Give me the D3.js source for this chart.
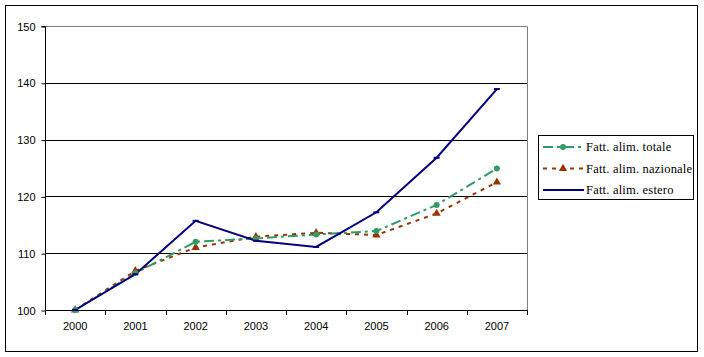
<!DOCTYPE html>
<html><head><meta charset="utf-8">
<script src="https://cdn.jsdelivr.net/npm/d3@7"></script>
<style>body{margin:0;background:#fff}svg{display:block}</style>
</head><body>
<script>
const years = ["2000","2001","2002","2003","2004","2005","2006","2007"];
const totale = [100, 106.5, 112.0, 112.6, 113.3, 113.9, 118.5, 124.9];
const nazionale = [100, 106.9, 111.0, 112.9, 113.6, 113.2, 117.0, 122.5];
const estero = [100, 106.3, 115.7, 112.2, 111.1, 117.2, 126.8, 138.9];
const yTicks = [100, 110, 120, 130, 140, 150];
const seriesNames = ["Fatt. alim. totale", "Fatt. alim. nazionale", "Fatt. alim. estero"];

const W = 704, H = 357;
const svg = d3.select("body").append("svg").attr("width", W).attr("height", H);
svg.append("rect").attr("x", 5.5).attr("y", 5.5).attr("width", 692).attr("height", 346)
  .attr("fill", "#fff").attr("stroke", "#000").attr("stroke-width", 1);

const L = 45, R = 527, T = 26, B = 310;
const x = d3.scaleBand().domain(years).range([L, R]);
const y = d3.scaleLinear().domain([100, 150]).range([B, T]);

// gridlines
svg.append("g").selectAll("line").data(yTicks.filter(v => v > 100 && v < 150)).join("line")
  .attr("x1", L).attr("x2", R).attr("y1", d => Math.round(y(d)) + 0.5).attr("y2", d => Math.round(y(d)) + 0.5)
  .attr("stroke", "#000").attr("stroke-width", 1);
// plot border top/right gray
svg.append("path").attr("d", `M${L},${T + 0.5}H${R + 0.5}V${B}`).attr("fill", "none").attr("stroke", "#808080");

// axes
const yAxis = d3.axisLeft(y).tickValues(yTicks).tickSize(4).tickPadding(6);
const gy = svg.append("g").attr("transform", `translate(${L + 0.5},0.5)`).call(yAxis);
const xAxis = d3.axisBottom(x).tickSize(0).tickPadding(12);
const gx = svg.append("g").attr("transform", `translate(0,${B + 0.5})`).call(xAxis);
// x tick marks at band boundaries
svg.append("g").selectAll("line").data(d3.range(years.length + 1)).join("line")
  .attr("x1", i => Math.round(L + i * x.step()) + 0.5).attr("x2", i => Math.round(L + i * x.step()) + 0.5)
  .attr("y1", B).attr("y2", B + 5).attr("stroke", "#000");
[gy, gx].forEach(g => {
  g.select(".domain").attr("stroke", "#000");
  g.selectAll(".tick line").attr("stroke", "#000");
  g.selectAll("text").attr("font-family", "Liberation Sans, Arial, sans-serif").attr("font-size", 11).attr("fill", "#000");
});
gy.select(".domain").attr("d", `M-4,${T}H0V${B}`);
gx.select(".domain").attr("d", `M${L},0H${R}`);

const cx = d => x(d) + x.bandwidth() / 2;
const line = vals => d3.line().x((d, i) => cx(years[i])).y(d => y(d))(vals);

const pl = svg.append("g");
pl.append("path").attr("d", line(nazionale)).attr("fill", "none").attr("stroke", "#993300")
  .attr("stroke-width", 2).attr("stroke-dasharray", "4,5");
pl.append("path").attr("d", line(totale)).attr("fill", "none").attr("stroke", "#339966")
  .attr("stroke-width", 2).attr("stroke-dasharray", "10,4,3,4");
pl.append("path").attr("d", line(estero)).attr("fill", "none").attr("stroke", "#000080")
  .attr("stroke-width", 2);

const tri = d3.symbol().type(d3.symbolTriangle).size(30);
pl.append("g").selectAll("path").data(nazionale).join("path")
  .attr("d", tri).attr("transform", (d, i) => `translate(${cx(years[i])},${y(d)})`).attr("fill", "#993300");
pl.append("g").selectAll("circle").data(totale).join("circle")
  .attr("cx", (d, i) => cx(years[i])).attr("cy", d => y(d)).attr("r", 3).attr("fill", "#339966");
pl.append("g").selectAll("line").data(estero).join("line")
  .attr("x1", (d, i) => cx(years[i]) - 3).attr("x2", (d, i) => cx(years[i]) + 3)
  .attr("y1", d => y(d)).attr("y2", d => y(d)).attr("stroke", "#000080").attr("stroke-width", 2);

// legend
const lg = svg.append("g");
lg.append("rect").attr("x", 538.5).attr("y", 135.5).attr("width", 155).attr("height", 64)
  .attr("fill", "#fff").attr("stroke", "#000");
const styles = [
  {c: "#339966", dash: "10,4,3,4", m: "circle"},
  {c: "#993300", dash: "4,5", m: "tri"},
  {c: "#000080", dash: null, m: null}
];
const ly = [147, 168.5, 190];
seriesNames.forEach((n, i) => {
  const g = lg.append("g");
  g.append("line").attr("x1", 543).attr("x2", 584).attr("y1", ly[i]).attr("y2", ly[i])
    .attr("stroke", styles[i].c).attr("stroke-width", 2).attr("stroke-dasharray", styles[i].dash);
  if (styles[i].m === "circle") g.append("circle").attr("cx", 563).attr("cy", ly[i]).attr("r", 3).attr("fill", styles[i].c);
  if (styles[i].m === "tri") g.append("path").attr("d", tri).attr("transform", `translate(563,${ly[i]})`).attr("fill", styles[i].c);
  g.append("text").attr("x", 586).attr("y", ly[i]).attr("dy", "0.35em")
    .attr("font-family", "Liberation Serif, Times New Roman, serif").attr("font-size", 12.5)
    .attr("letter-spacing", 0.2).text(n);
});
</script>
</body></html>
